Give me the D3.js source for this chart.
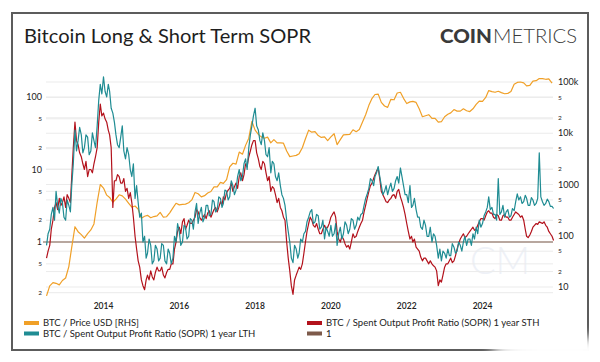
<!DOCTYPE html>
<html>
<head>
<meta charset="utf-8">
<script src="https://cdn.jsdelivr.net/npm/d3@7"></script>
<style>
body { margin: 0; padding: 0; background: #fff; }
svg  { display: block; font-family: Lato, "Open Sans", sans-serif; }
</style>
</head>
<body>
<script>

// price: monthly points, Jul 2012 .. Nov 2025
var months = d3.timeMonth.range(new Date(2012, 6, 1), new Date(2025, 11, 1));
// SOPR: two points a month (1st and 16th)
var halfMonths = [];
months.forEach(function (m) { halfMonths.push(m, d3.timeDay.offset(m, 15)); });

var priceUsd = [
  6.7, 10.5, 12.2, 11.8, 11.0, 13.4,                                            // 2012
  15, 25, 60, 150, 120, 105, 90, 110, 130, 170, 450, 1000,                       // 2013
  850, 620, 560, 450, 520, 630, 600, 520, 430, 360, 380, 330,                    // 2014
  220, 240, 250, 225, 237, 245, 285, 230, 235, 280, 350, 430,                    // 2015
  400, 410, 415, 440, 500, 700, 660, 575, 605, 680, 730, 900,                    // 2016
  900, 1100, 1050, 1250, 2200, 2600, 2500, 4300, 3900, 5800, 8000, 17000,        // 2017
  11500, 9500, 8500, 8000, 8400, 6500, 7500, 6500, 6500, 6400, 4500, 3500,       // 2018
  3600, 3700, 4000, 5200, 7800, 11500, 10500, 10800, 9000, 8300, 8500, 7200,     // 2019
  8500, 9800, 6000, 7500, 9300, 9400, 9500, 11700, 10700, 11800, 16500, 23000,  // 2020
  35000, 48000, 57000, 58000, 40000, 34000, 32000, 46000, 45000, 61000, 63000, 48000, // 2021
  38000, 41000, 42000, 40000, 30000, 21000, 22000, 23000, 19500, 19500, 16500, 16800, // 2022
  21000, 23500, 25000, 29000, 27000, 27000, 30000, 27500, 26500, 30000, 36500, 42500, // 2023
  42000, 50000, 68000, 65000, 63000, 66000, 62000, 59000, 60000, 65000, 90000, 98000, // 2024
  100000, 96000, 84000, 86000, 104000, 106000, 117000, 116000, 113000, 115000, 95000  // 2025
];

var lthSopr = [
  0.9, 1.3,  1.5, 2.4,  3.0, 2.0,  5.0, 3.2,  2.5, 4.0,  3.5, 2.2,                                  // 2012 H2
  2.0, 3.8,  3.2, 2.6,  6.0, 12,  35, 18,  25, 38,  30, 17,  20, 30,  28, 16,  18, 32,  25, 20,  40, 90,  150, 110,    // 2013
  190, 120,  100, 150,  120, 70,  60, 45,  30, 22,  20, 28,  40, 18,  14, 20,  16, 10,  8, 12,  4, 6,  3.5, 2.2,       // 2014
  2.5, 1.0,  1.2, 0.6,  0.7, 1.1,  0.9, 0.5,  0.55, 0.9,  0.8, 0.55,  0.6, 0.95,  0.9, 0.55,  0.5, 0.8,  0.7, 0.5,  0.6, 1.2,  1.0, 1.8, // 2015
  1.4, 0.9,  1.0, 1.7,  1.6, 1.1,  1.2, 2.1,  2.0, 1.5,  2.6, 3.4,  1.8, 2.5,  3.0, 1.9,  2.2, 3.2,  3.2, 2.3,  2.4, 3.8,  3.6, 2.6, // 2016
  2.8, 4.2,  4.0, 3.0,  3.4, 5.2,  5.0, 3.8,  4.2, 7.0,  6.0, 4.5,  5.2, 8,  10, 7,  8, 12,  14, 10,  20, 30,  40, 55,  // 2017
  70, 40,  35, 25,  22, 32,  25, 16,  15, 20,  9, 13,  12, 8,  7, 9,  6, 4.5,  4, 3.2,  2.0, 1.4,  1.0, 0.6,           // 2018
  0.52, 0.9,  0.8, 0.6,  0.7, 1.1,  1.0, 1.3,  1.4, 1.9,  2.2, 2.6,  2.8, 1.8,  1.9, 2.4,  2.3, 1.5,  1.6, 2.0,  1.1, 1.6,  1.4, 1.2, // 2019
  1.7, 1.2,  1.3, 1.8,  0.9, 1.3,  1.6, 1.1,  1.3, 1.9,  1.7, 1.3,  1.5, 2.1,  2.0, 1.5,  1.7, 2.2,  2.0, 2.4,  2.5, 3.2,  4.0, 4.6, // 2020
  5.5, 7.5,  7.0, 6.0,  8.0, 9.0,  11, 8,  6, 4.5,  5, 6,  4.5, 5.5,  6.5, 5,  5.5, 7,  8, 6.5,  10.5, 8,  6, 4.5,      // 2021
  4.5, 3.5,  6, 3.0,  3.2, 4.0,  2.8, 2.2,  2.2, 1.6,  1.5, 2.0,  1.7, 1.2,  1.2, 1.6,  1.0, 1.3,  1.2, 0.9,  0.6, 0.8,  0.55, 0.75, // 2022
  0.7, 0.6,  0.8, 0.65,  0.65, 0.95,  0.85, 0.7,  0.75, 1.0,  0.9, 0.75,  1.0, 1.2,  0.9, 1.1,  1.1, 0.9,  1.3, 1.1,  1.6, 1.3,  2.0, 1.6, // 2023
  1.8, 2.3,  2.6, 3.0,  4.2, 2.8,  3.0, 2.4,  2.4, 2.0,  7.5, 2.4,  2.6, 3.2,  2.2, 2.6,  2.8, 2.2,  2.3, 2.9,  2.7, 3.6,  4.6, 3.8, // 2024
  4.2, 3.4,  3.6, 4.4,  4.0, 3.2,  3.2, 4.1,  3.8, 3.2,  3.4, 4.0,  17, 4.2,  3.6, 3.2,  3.4, 3.9,  3.6, 3.1,  3.1, 2.9           // 2025
];

var sthSopr = [
  0.6, 0.75,  0.9, 1.5,  2.0, 3.0,  3.5, 2.8,  4.0, 3.2,  3.5, 4.2,                                 // 2012 H2
  3.0, 4.5,  4.0, 3.5,  8.0, 20,  45, 25,  22, 17,  15, 12,  10, 13,  8, 10,  10, 9,  12, 15,  20, 45,  80, 55,         // 2013
  60, 50,  45, 35,  30, 20,  3, 7,  7, 8.5,  8, 6.5,  6.5, 7.5,  5, 5.5,  4, 4.8,  3.5, 2.2,  1.2, 0.8,  0.55, 0.45,   // 2014
  0.3, 0.25,  0.22, 0.3,  0.35, 0.3,  0.4, 0.33,  0.3, 0.38,  0.45, 0.4,  0.4, 0.45,  0.35, 0.32,  0.38, 0.42,  0.42, 0.5,  0.5, 0.8,  1.0, 1.4, // 2015
  1.6, 1.3,  1.9, 2.1,  1.5, 1.7,  2.0, 1.8,  1.8, 2.0,  2.2, 2.8,  2.6, 2.2,  2.0, 2.2,  2.4, 2.1,  2.5, 2.7,  2.2, 2.5,  2.8, 3.0, // 2016
  2.6, 3.0,  3.6, 3.2,  4.2, 3.8,  4.8, 5.2,  5.5, 6.5,  5.0, 5.8,  6.5, 5.5,  8, 9,  7, 8.5,  12, 11,  15, 18,  22, 25, // 2017
  25, 17,  14, 11,  10, 13,  12, 9,  7, 8,  5, 5.8,  5.5, 4.5,  3.5, 4.0,  3.0, 2.7,  2.2, 2.0,  1.0, 0.6,  0.4, 0.25,  // 2018
  0.19, 0.3,  0.35, 0.4,  0.45, 0.42,  0.5, 0.7,  1.0, 1.4,  1.8, 2.2,  2.0, 1.7,  1.6, 1.8,  1.5, 1.3,  1.3, 1.5,  1.7, 1.5,  1.6, 1.8, // 2019
  2.2, 2.4,  2.6, 2.2,  1.4, 1.1,  1.0, 1.2,  1.1, 0.95,  0.85, 0.9,  0.8, 1.0,  1.3, 1.15,  1.2, 1.4,  1.6, 1.8,  2.0, 2.6,  3.2, 4.0, // 2020
  5.0, 6.0,  6.5, 7.5,  8.5, 9.5,  10.5, 7.5,  5.0, 4.5,  4.0, 3.6,  3.5, 3.8,  4.0, 4.4,  4.5, 4.0,  5.0, 5.3,  4.2, 3.6,  3.0, 2.4, // 2021
  1.8, 1.4,  1.1, 1.2,  1.0, 1.1,  0.85, 0.8,  0.75, 0.62,  0.55, 0.6,  0.6, 0.55,  0.5, 0.55,  0.5, 0.47,  0.45, 0.4,  0.25, 0.3,  0.28, 0.35, // 2022
  0.45, 0.5,  0.5, 0.55,  0.6, 0.52,  0.55, 0.65,  0.8, 0.95,  1.1, 1.2,  1.3, 1.15,  1.2, 1.3,  1.4, 1.5,  1.6, 1.45,  1.5, 1.7,  1.9, 2.1, // 2023
  2.1, 2.0,  2.3, 2.6,  2.7, 2.5,  2.5, 2.2,  2.1, 2.4,  2.3, 2.0,  2.0, 2.3,  2.4, 2.2,  2.2, 2.0,  2.0, 2.2,  2.4, 2.6,  2.5, 2.4, // 2024
  2.2, 2.3,  2.0, 1.5,  1.2, 1.15,  1.25, 1.4,  1.6, 1.7,  1.8, 1.75,  1.9, 1.85,  1.8, 1.9,  1.7, 1.6,  1.4, 1.3,  1.2, 1.05     // 2025
];

var leftTicks   = [0.2, 0.5, 1, 2, 5, 10, 20, 50, 100];
var leftLabels  = ["2", "5", "1", "2", "5", "10", "2", "5", "100"];
var rightTicks  = [10, 20, 50, 100, 200, 500, 1000, 2000, 5000, 10000, 20000, 50000, 100000];
var rightLabels = ["10", "2", "5", "100", "2", "5", "1000", "2", "5", "10k", "2", "5", "100k"];
var yearTicks   = [2014, 2016, 2018, 2020, 2022, 2024];

var legendItems = [
  {name: "BTC / Price USD [RHS]", color: "#f0a028", col: 0, row: 0},
  {name: "BTC / Spent Output Profit Ratio (SOPR) 1 year LTH", color: "#1f8c93", col: 0, row: 1},
  {name: "BTC / Spent Output Profit Ratio (SOPR) 1 year STH", color: "#b3121c", col: 1, row: 0},
  {name: "1", color: "#7d5a4a", col: 1, row: 1}
];

var W = 600, H = 362;
var plotL = 46, plotR = 553;

var svg = d3.select("body").append("svg")
  .attr("width", W).attr("height", H)
  .attr("viewBox", "0 0 " + W + " " + H);

var x  = d3.scaleTime().domain([new Date(2014, 0, 1), new Date(2024, 0, 1)]).range([103.5, 482.5]);
var yL = d3.scaleLog().domain([0.2, 100]).range([292.7, 97]);       // SOPR, left
var yR = d3.scaleLog().domain([10, 100000]).range([287, 82]);       // price, right

// frame
svg.append("rect")
  .attr("x", 12).attr("y", 13).attr("width", 576).attr("height", 337)
  .attr("fill", "none").attr("stroke", "#5c5c5c").attr("stroke-width", 2);

// title + logo
svg.append("text").attr("x", 24).attr("y", 43)
  .attr("font-size", 19).attr("fill", "#1e1e1e")
  .attr("textLength", 287).attr("lengthAdjust", "spacingAndGlyphs")
  .text("Bitcoin Long & Short Term SOPR");
svg.append("text").attr("x", 440).attr("y", 43)
  .attr("font-size", 19).attr("font-weight", 900).attr("fill", "#3a3a3a")
  .attr("textLength", 52).attr("lengthAdjust", "spacingAndGlyphs")
  .text("COIN");
svg.append("text").attr("x", 493).attr("y", 43)
  .attr("font-size", 19).attr("font-weight", 300).attr("fill", "#3a3a3a")
  .attr("textLength", 84).attr("lengthAdjust", "spacingAndGlyphs")
  .text("METRICS");

// watermark
svg.append("text").attr("x", 500).attr("y", 274).attr("text-anchor", "middle")
  .attr("font-size", 38).attr("font-weight", 300).attr("fill", "#eef1f7")
  .text("CM");

// grid lines, both axes
var grid = svg.append("g").attr("stroke", "#ebebeb").attr("stroke-width", 1);
leftTicks.forEach(function (v) {
  grid.append("line").attr("x1", plotL).attr("x2", plotR).attr("y1", yL(v)).attr("y2", yL(v));
});
rightTicks.forEach(function (v) {
  grid.append("line").attr("x1", plotL).attr("x2", plotR).attr("y1", yR(v)).attr("y2", yR(v));
});

// left labels
svg.append("g").selectAll("text").data(leftTicks).join("text")
  .attr("x", 42).attr("y", function (d) { return yL(d); })
  .attr("dy", "0.35em").attr("text-anchor", "end")
  .attr("font-size", function (d, i) { return /^1/.test(leftLabels[i]) ? 9 : 6.5; })
  .attr("fill", "#222")
  .text(function (d, i) { return leftLabels[i]; });

// right labels
svg.append("g").selectAll("text").data(rightTicks).join("text")
  .attr("x", 558).attr("y", function (d) { return yR(d); })
  .attr("dy", "0.35em")
  .attr("font-size", function (d, i) { return /^1/.test(rightLabels[i]) ? 9 : 6.5; })
  .attr("fill", "#222")
  .text(function (d, i) { return rightLabels[i]; });

// year labels
svg.append("g").selectAll("text").data(yearTicks).join("text")
  .attr("x", function (d) { return x(new Date(d, 0, 1)); })
  .attr("y", 309).attr("text-anchor", "middle")
  .attr("font-size", 8.5).attr("font-weight", 600).attr("fill", "#222")
  .text(function (d) { return d; });

// SOPR = 1 reference
svg.append("line")
  .attr("x1", plotL - 3).attr("x2", plotR).attr("y1", yL(1)).attr("y2", yL(1))
  .attr("stroke", "#7d5a4a").attr("stroke-width", 1.2);

function drawLine(values, dates, y, color) {
  var line = d3.line()
    .x(function (d, i) { return x(dates[i]); })
    .y(function (d) { return y(d); });
  svg.append("path").datum(values)
    .attr("d", line)
    .attr("fill", "none").attr("stroke", color)
    .attr("stroke-width", 1.2).attr("stroke-linejoin", "round");
}

drawLine(priceUsd, months, yR, "#f0a028");
drawLine(sthSopr, halfMonths, yL, "#b3121c");
drawLine(lthSopr, halfMonths, yL, "#1f8c93");

// legend
var lg = svg.append("g");
legendItems.forEach(function (d) {
  var lx = d.col ? 307 : 24;
  var ly = 323 + d.row * 10.5;
  lg.append("rect").attr("x", lx).attr("y", ly - 2).attr("width", 15).attr("height", 4).attr("fill", d.color);
  lg.append("text").attr("x", lx + 19).attr("y", ly).attr("dy", "0.35em")
    .attr("font-size", 9.5).attr("fill", "#222").text(d.name);
});

// white smear over bottom-right corner
var defs = svg.append("defs");
defs.append("filter").attr("id", "smear").attr("x", "-50%").attr("y", "-50%").attr("width", "200%").attr("height", "200%")
  .append("feGaussianBlur").attr("stdDeviation", 6);
svg.append("ellipse").attr("cx", 560).attr("cy", 350).attr("rx", 70).attr("ry", 14)
  .attr("fill", "#fff").attr("filter", "url(#smear)");

</script>
</body>
</html>
